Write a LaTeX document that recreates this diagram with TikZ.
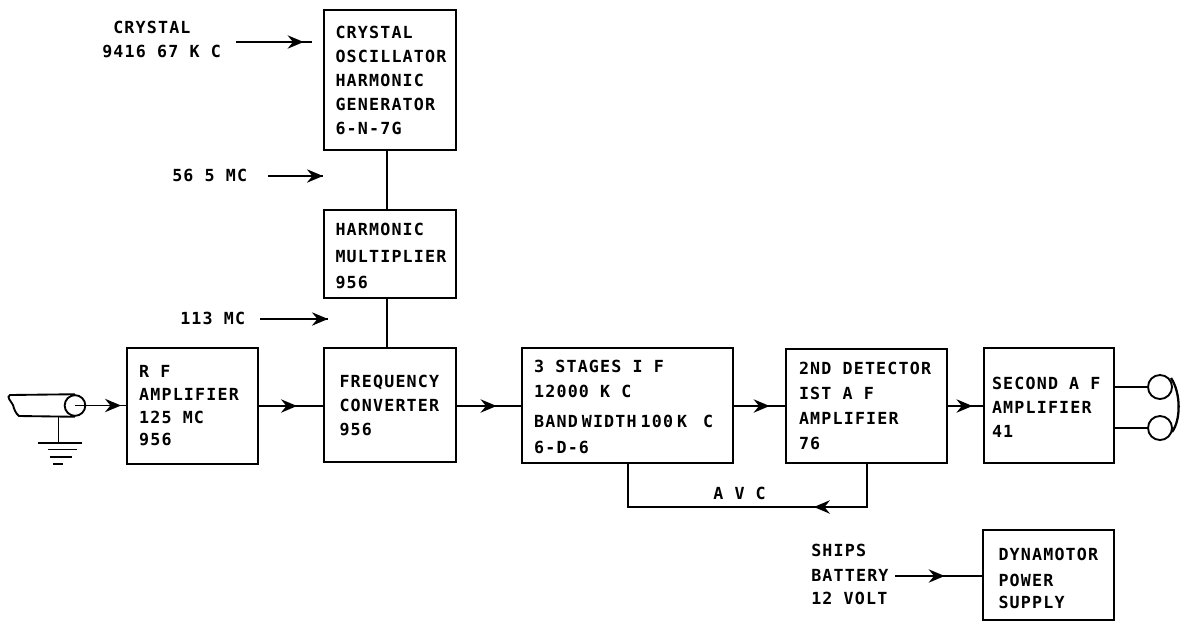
\documentclass[tikz,border=0pt]{standalone}
\usepackage{fontspec}
\setmainfont{DejaVu Sans Mono}[BoldFont=DejaVu Sans Mono Bold,LetterSpace=7]
\usetikzlibrary{arrows.meta,decorations.markings}
\newcommand\topgap[1]{\rule{0pt}{#1pt}}
\tikzset{
 x=0.75pt,y=-0.75pt,
 every node/.style={font=\bfseries\fontsize{12.5}{18}\selectfont},
 wire/.style={line width=1.4pt,black},
 fb/.style={wire,postaction={decorate},decoration={markings,mark=at position #1 with {\arrow{Stealth[length=12pt,width=10pt,inset=4pt]}}}},
 blk/.style 2 args={draw,line width=1.5pt,inner ysep=0pt,inner xsep=9pt,align=left,text width=#1,minimum height=#2,anchor=center,
   execute at begin node={\spaceskip=8.4pt\relax\hyphenchar\font=-1\relax}},
 lab/.style={inner sep=0pt,align=left},
 earth/.style={line width=1.4pt},
 roundel/.style={circle,draw,line width=1.4pt,minimum size=#1,inner sep=0pt,font=\tiny}
}
\begin{document}
\begin{tikzpicture}
\useasboundingbox (0,0) rectangle (1186,622);
\node[blk={81pt}{105pt}] (osc) at (389.5,80) {CRYSTAL\\OSCILLATOR\\HARMONIC\\GENERATOR\\6-N-7G};
\node[blk={81pt}{66pt}] (mul) at (389.5,254) {\topgap{12.3}HARMONIC\\[2pt]MULTIPLIER\\[2pt]956};
\node[blk={75pt}{86pt},inner xsep=12pt] (conv) at (389.5,405) {FREQUENCY\\CONVERTER\\956};
\node[blk={80pt}{87pt}] (rf) at (192.5,406) {R F\\[-1pt]AMPLIFIER\\[-1pt]125 MC\\[-1pt]956};
\node[blk={140pt}{86pt}] (ifa) at (627.5,405.5) {\topgap{11.5}3 STAGES I F\\[0.75pt]12000 K C\\[4.5pt]{\spaceskip=3pt\relax BAND WIDTH 100 K\hspace{12pt}C}\\[1.5pt]6-D-6};
\node[blk={101.25pt}{86pt},inner xsep=9.75pt] (det) at (866.5,406) {2ND DETECTOR\\[0.75pt]IST A F\\[0.75pt]AMPLIFIER\\[0.75pt]76};
\node[blk={85.5pt}{86pt},inner xsep=6pt] (sec) at (1049,405.5) {\topgap{11.5}SECOND A F\\AMPLIFIER\\41};
\node[blk={75pt}{68pt},inner xsep=11.5pt] (dyn) at (1048.5,575) {\topgap{14.5}DYNAMOTOR\\[1.5pt]POWER\\[-1.5pt]SUPPLY};
\node[lab,anchor=west] (xt1) at (113,27) {CRYSTAL};
\node[lab,anchor=west] (xt2) at (102,51) {9416 67 K C};
\node[lab,anchor=west] (f56) at (172,175) {56 5 MC};
\node[lab,anchor=west] (f113) at (180,318) {113 MC};
\node[lab,anchor=west] (avc) at (713,493) {A V C};
\node[lab,anchor=west] (sh1) at (811,550) {SHIPS};
\node[lab,anchor=west] (sh2) at (811,575) {BATTERY};
\node[lab,anchor=west] (sh3) at (811,598) {12 VOLT};
% free ends
\coordinate (a1) at (236,42); \coordinate (a1e) at (312,42);
\coordinate (a2) at (268,176); \coordinate (a2e) at (323,176);
\coordinate (a3) at (260,319); \coordinate (a3e) at (328,319);
\coordinate (b1) at (895,576);
\coordinate (vx) at (387,0);
\draw[fb=0.89] (a1) -- (a1e);
\draw[fb=1] (a2) -- (a2e);
\draw[fb=1] (a3) -- (a3e);
\draw[wire] (vx |- osc.south) -- (vx |- mul.north);
\draw[wire] (vx |- mul.south) -- (vx |- conv.north);
\node[roundel=15.5pt] (coax) at (75,405.5) {};
\draw[fb=0.9] (coax.center) -- (coax.center -| rf.west);
\draw[fb=0.6] (rf.east |- 0,406) -- (conv.west |- 0,406);
\draw[fb=0.62] (conv.east |- 0,406) -- (ifa.west |- 0,406);
\draw[fb=0.7] (ifa.east |- 0,406) -- (det.west |- 0,406);
\draw[fb=0.7] (det.east |- 0,406) -- (sec.west |- 0,406);
\draw[fb=0.57] (b1) -- (dyn.west |- b1);
\coordinate (avcl) at (628,507);
\coordinate (avcr) at (867,507);
\draw[fb=0.295] (det.south -| avcr) -- (avcr) -- (avcl) -- (ifa.south -| avcl);
% coax body
\draw[line width=1.4pt] (coax.north) -- (10,395) .. controls (6,397) and (11,401) .. (13,405) .. controls (14,409) and (16,414) .. (19,416) -- (coax.south);
\coordinate (g0) at (58.5,416); \coordinate (g1) at (58.5,443);
\draw[wire] (g0) -- (g1);
\draw[earth] (38,443) -- (82,443) (48,449.5) -- (77,449.5) (50,457) -- (72,457) (53,464) -- (63,464);
% phones
\node[roundel=18pt] (ph1) at (1160,387) {};
\node[roundel=18pt] (ph2) at (1160,428) {};
\draw[wire] (sec.east |- ph1) -- (ph1);
\draw[wire] (sec.east |- ph2) -- (ph2);
\coordinate (ar1) at (1171,378); \coordinate (ar2) at (1172,432);
\draw[line width=1.7pt] (ar1) .. controls (1181,393) and (1181,420) .. (ar2);
\end{tikzpicture}
\end{document}
